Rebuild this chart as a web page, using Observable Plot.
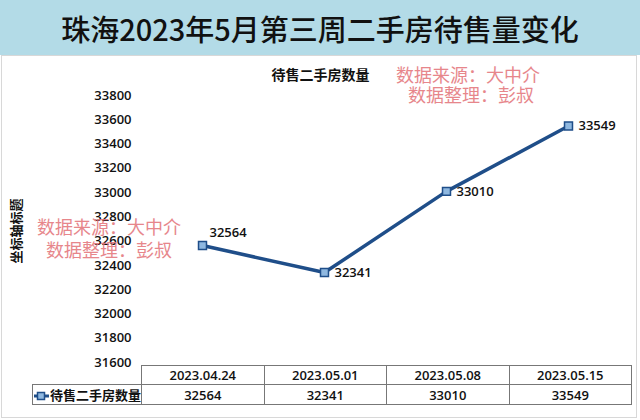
<!DOCTYPE html>
<html>
<head>
<meta charset="utf-8">
<script src="https://cdn.jsdelivr.net/npm/d3@7"></script>
<script src="https://cdn.jsdelivr.net/npm/@observablehq/plot@0.6"></script>
<style>
  body { margin:0; width:640px; height:420px; position:relative; background:#fff; overflow:hidden;
         font-family:"Open Sans","Noto Sans CJK SC",sans-serif; }
  #title { height:55px; background:#b3dbe7; display:flex; align-items:center; justify-content:center;
           font:500 29px "Noto Sans CJK SC"; color:#111; letter-spacing:0px; }
  #frame { position:absolute; left:1px; top:55px; width:636px; height:363px; border:1px solid #d8d8d8; box-sizing:border-box; }
  #chart { position:absolute; left:0; top:57px; }
  table { position:absolute; left:32px; top:365px; border-collapse:collapse; font:600 13px "Open Sans","Noto Sans CJK SC",sans-serif; color:#111; }
  td { border:1px solid #777; text-align:center; padding:0; height:19px; width:122.5px; box-sizing:border-box; }
  td.leg { width:108px; text-align:left; white-space:nowrap; }
  td.blank { border:none; border-bottom:1px solid #777; width:108px; }
  .wm { position:absolute; color:#e57a7f; font:400 18px "Noto Sans CJK SC"; text-align:center; white-space:nowrap; line-height:1; opacity:0.9; }
</style>
</head>
<body>
<div id="title"></div>
<div id="frame"></div>
<div id="chart"></div>
<table id="tbl"></table>
<div class="wm" style="left:34px; top:217px; width:150px;">数据来源：大中介</div>
<div class="wm" style="left:34px; top:240px; width:150px;">数据整理：彭叔</div>
<div class="wm" style="left:393px; top:65px; width:150px;">数据来源：大中介</div>
<div class="wm" style="left:396px; top:85px; width:150px;">数据整理：彭叔</div>
<script>
const titleText = "珠海2023年5月第三周二手房待售量变化";
const seriesName = "待售二手房数量";
const axisTitle = "坐标轴标题";
const dates = ["2023.04.24", "2023.05.01", "2023.05.08", "2023.05.15"];
const values = [32564, 32341, 33010, 33549];
const yTicks = [31600, 31800, 32000, 32200, 32400, 32600, 32800, 33000, 33200, 33400, 33600, 33800];

document.getElementById("title").textContent = titleText;

const data = dates.map((d, i) => ({date: d, value: values[i]}));
const lineColor = "#1f4e89";

const chart = Plot.plot({
  width: 640,
  height: 308,
  marginTop: 38,
  marginBottom: 3,
  marginLeft: 140,
  marginRight: 10,
  style: {fontFamily: "'Open Sans','Noto Sans CJK SC',sans-serif", fontSize: "13px", fontWeight: 600, color: "#111", background: "transparent", overflow: "visible"},
  x: {type: "point", domain: dates, padding: 0.5, axis: null},
  y: {domain: [31600, 33800], ticks: yTicks, tickSize: 0, tickPadding: 9, label: null, tickFormat: d => String(d)},
  marks: [
    Plot.line(data, {x: "date", y: "value", stroke: lineColor, strokeWidth: 3.5}),
    Plot.dot(data, {x: "date", y: "value", symbol: "square", r: 4.5, fill: "#8fb8e0", stroke: lineColor, strokeWidth: 1.5}),
    Plot.text(data.slice(0, 1), {x: "date", y: "value", text: d => String(d.value), textAnchor: "start", dx: 7, dy: -13, fill: "#111"}),
    Plot.text(data.slice(1), {x: "date", y: "value", text: d => String(d.value), textAnchor: "start", dx: 10, fill: "#111"}),
    Plot.text([seriesName], {text: d => d, frameAnchor: "top", dx: -65, dy: -25, fontWeight: "bold", fontSize: 14, fill: "#111"}),
    Plot.text([axisTitle], {text: d => d, frameAnchor: "left", textAnchor: "middle", dx: -124, dy: 2, rotate: -90, fontSize: 13, fontWeight: "bold", fill: "#111"})
  ]
});
document.getElementById("chart").appendChild(chart);

// data table
const tbl = document.getElementById("tbl");
const r1 = tbl.insertRow();
const blank = r1.insertCell(); blank.className = "blank";
dates.forEach(d => { const c = r1.insertCell(); c.textContent = d; });
const r2 = tbl.insertRow();
const leg = r2.insertCell(); leg.className = "leg";
leg.innerHTML = `<svg width="17" height="10" style="vertical-align:-1px"><line x1="1" y1="5" x2="16" y2="5" stroke="${lineColor}" stroke-width="3"/><rect x="4.5" y="1.5" width="7" height="7" fill="#8fb8e0" stroke="${lineColor}" stroke-width="1.5"/></svg>`;
leg.appendChild(document.createTextNode(seriesName));
values.forEach(v => { const c = r2.insertCell(); c.textContent = String(v); });
</script>
</body>
</html>
